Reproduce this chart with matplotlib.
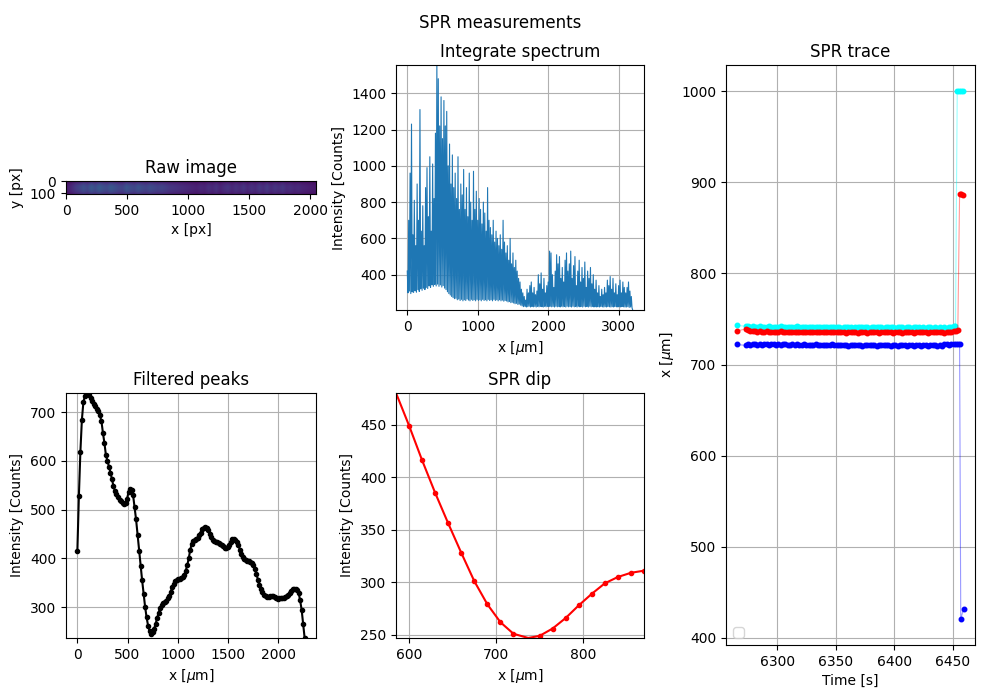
import numpy as np
import matplotlib
matplotlib.use('Agg')
import matplotlib.pyplot as plt

# raw camera image, coarse column / row brightness profiles (0..1 of colormap)
raw_cols = [0.08, 0.12, 0.17, 0.20, 0.24, 0.21, 0.27, 0.23, 0.28, 0.24, 0.22, 0.27,
            0.24, 0.21, 0.20, 0.26, 0.23, 0.21, 0.25, 0.22, 0.20, 0.23, 0.21, 0.19,
            0.20, 0.18, 0.16, 0.15, 0.14, 0.13, 0.12, 0.11, 0.10, 0.09, 0.11, 0.10,
            0.13, 0.11, 0.14, 0.10, 0.13, 0.15, 0.11, 0.14, 0.12, 0.15, 0.11, 0.14,
            0.12, 0.16, 0.13, 0.17, 0.12, 0.15, 0.13, 0.16, 0.12, 0.13, 0.11, 0.12,
            0.10, 0.09, 0.08, 0.07]
raw_rows = [0.45, 0.70, 0.90, 1.00, 1.00, 0.95, 0.85, 0.65]

# integrated spectrum, x every 10 um
spec_y = [420, 300, 700, 310, 960, 296, 1230, 305, 620, 302,
          810, 312, 560, 304, 900, 318, 700, 308, 1310, 322,
          640, 314, 780, 326, 560, 318, 880, 330, 990, 324,
          720, 338, 1050, 330, 640, 344, 1010, 336, 820, 346,
          1180, 338, 1560, 348, 1480, 336, 1220, 344, 1380, 332,
          1150, 340, 1360, 326, 1220, 318, 1300, 306, 1000, 296,
          1120, 288, 900, 280, 1060, 274, 880, 268, 960, 270,
          820, 262, 1050, 266, 760, 258, 900, 264, 840, 256,
          980, 262, 760, 258, 880, 266, 720, 260, 960, 256,
          800, 264, 700, 258, 970, 262, 760, 256, 860, 264,
          700, 258, 820, 262, 760, 256, 680, 264, 800, 258,
          740, 262, 640, 256, 880, 264, 700, 258, 660, 262,
          620, 256, 700, 264, 580, 258, 640, 262, 600, 256,
          560, 262, 620, 256, 540, 260, 700, 254, 580, 258,
          520, 255, 560, 250, 480, 252, 600, 246, 460, 248,
          520, 244, 440, 240, 480, 242, 420, 236, 380, 238,
          360, 232, 320, 228, 300, 224, 280, 226, 260, 222,
          320, 224, 300, 226, 340, 222, 360, 225, 300, 223,
          330, 225, 290, 222, 310, 226, 400, 223, 350, 225,
          410, 224, 320, 222, 380, 226, 300, 223, 340, 225,
          360, 224, 530, 226, 520, 223, 400, 225, 330, 222,
          420, 226, 510, 223, 460, 225, 500, 222, 380, 226,
          440, 223, 360, 225, 480, 222, 520, 226, 420, 223,
          460, 225, 530, 222, 380, 226, 450, 223, 500, 225,
          340, 222, 420, 226, 480, 223, 360, 225, 440, 222,
          380, 226, 470, 223, 330, 225, 420, 222, 380, 226,
          440, 223, 350, 225, 400, 222, 320, 224, 370, 222,
          300, 224, 340, 222, 280, 225, 320, 223, 290, 222,
          330, 224, 300, 222, 370, 225, 340, 223, 390, 222,
          320, 224, 380, 222, 300, 225, 350, 223, 290, 222,
          340, 224, 370, 222, 300, 225, 360, 223, 330, 222,
          300, 222, 330, 224, 360, 220, 310, 222, 280, 218,
          205]
spec_x = [10 * i for i in range(len(spec_y))]

# filtered peaks, x every 15 um
peak_y = [415, 527, 618, 684, 720, 733, 738, 739, 734, 728, 722, 716, 712, 707, 702, 693,
          681, 657, 636, 611, 600, 588, 576, 562, 548, 538, 531, 526, 520, 517, 514, 512,
          514, 522, 536, 542, 540, 530, 505, 480, 449, 416, 385, 356, 328, 301, 279, 262,
          251, 246, 249, 256, 266, 278, 289, 299, 305, 309, 311, 313, 318, 323, 332, 341,
          348, 353, 355, 357, 358, 359, 361, 366, 375, 386, 400, 418, 430, 435, 437, 439,
          442, 447, 453, 460, 463, 464, 462, 458, 451, 443, 437, 435, 434, 433, 432, 430,
          428, 425, 422, 421, 423, 428, 434, 439, 440, 438, 434, 427, 418, 410, 403, 398,
          396, 395, 394, 393, 391, 387, 378, 368, 356, 346, 338, 331, 326, 322, 321, 321,
          322, 323, 322, 320, 318, 317, 318, 318, 318, 319, 320, 322, 325, 329, 334, 337,
          338, 338, 336, 330, 314, 295, 266, 237]
peak_x = [15 * i for i in range(len(peak_y))]

# SPR dip around the minimum
dip_x = [585, 600, 615, 630, 645, 660, 675, 690, 705, 720, 737, 750, 765, 780, 795,
         810, 825, 840, 855, 870]
dip_y = [480, 449, 416, 385, 356, 328, 301, 279, 262, 251, 247, 249, 256, 266, 278,
         289, 299, 305, 309, 311]
dip_marks = [1, 2, 3, 4, 5, 6, 7, 8, 9, 11, 12, 13, 14, 15, 16, 17, 18, 19]

# SPR trace
t = [6266, 6273, 6275, 6277, 6279, 6281, 6283, 6285, 6287, 6289, 6291, 6293, 6295, 6297,
     6299, 6301, 6303, 6305, 6307, 6309, 6311, 6313, 6315, 6317, 6319, 6321, 6323, 6325,
     6327, 6329, 6331, 6333, 6335, 6337, 6339, 6341, 6343, 6345, 6347, 6349, 6351, 6353,
     6355, 6357, 6359, 6361, 6363, 6365, 6367, 6369, 6371, 6373, 6375, 6377, 6379, 6381,
     6383, 6385, 6387, 6389, 6391, 6393, 6395, 6397, 6399, 6401, 6403, 6405, 6407, 6409,
     6411, 6413, 6415, 6417, 6419, 6421, 6423, 6425, 6427, 6429, 6431, 6433, 6435, 6437,
     6439, 6441, 6443, 6445, 6447, 6449, 6451]
cyan_y = [743, 742, 742, 741, 742, 741, 741, 742, 741, 741, 741, 742, 741, 741,
          741, 741, 742, 741, 741, 741, 741, 741, 741, 742, 741, 741, 741, 741,
          741, 741, 741, 741, 741, 741, 741, 741, 741, 741, 741, 741, 741, 741,
          740, 741, 741, 741, 741, 740, 741, 741, 741, 741, 741, 741, 740, 741,
          741, 741, 741, 741, 740, 741, 741, 741, 741, 740, 741, 741, 741, 740,
          741, 741, 740, 741, 741, 741, 740, 741, 740, 741, 741, 740, 741, 740,
          741, 740, 741, 740, 741, 741, 742]
red_y = [737, 739, 738, 737, 737, 737, 736, 737, 736, 736, 737, 736, 736, 736,
         736, 736, 737, 736, 736, 736, 736, 736, 736, 736, 736, 736, 736, 736,
         736, 736, 736, 736, 736, 736, 736, 736, 736, 736, 736, 736, 736, 736,
         736, 736, 735, 736, 736, 736, 736, 735, 736, 736, 736, 735, 736, 736,
         736, 736, 735, 736, 736, 736, 736, 736, 735, 736, 736, 736, 735, 736,
         736, 736, 736, 735, 736, 736, 736, 736, 736, 735, 736, 736, 736, 736,
         736, 736, 735, 736, 736, 736, 737]
blue_y = [722, 721, 722, 721, 722, 722, 721, 722, 721, 722, 722, 721, 722, 722,
          721, 722, 721, 722, 722, 721, 721, 722, 721, 722, 721, 721, 722, 721,
          721, 721, 721, 722, 721, 721, 721, 721, 721, 721, 722, 721, 721, 721,
          721, 721, 721, 720, 721, 721, 721, 721, 721, 720, 721, 721, 721, 721,
          721, 720, 721, 721, 721, 721, 721, 720, 721, 721, 720, 721, 721, 721,
          720, 721, 721, 720, 721, 721, 720, 721, 721, 720, 721, 721, 721, 720,
          721, 720, 722, 722, 721, 722, 722]
cyan_tail_t = [6452.5, 6454, 6455.5, 6457, 6458.5]
cyan_tail_y = [742, 1000, 1000, 1000, 1000]
red_tail_t = [6453, 6454.5, 6456, 6457.5, 6459]
red_tail_y = [737, 738, 887, 887, 886]
blue_tail_t = [6453, 6454.5, 6456, 6457, 6459.5]
blue_tail_y = [722, 722, 722, 421, 432]

fig = plt.figure(figsize=(10, 7), dpi=100)
fig.suptitle('SPR measurements')

ax0 = fig.add_axes([0.066, 0.557, 0.25, 0.35])
raw = np.outer(raw_rows, raw_cols)
ax0.imshow(raw, cmap='viridis', vmin=0, vmax=1, extent=(-0.5, 2047.5, 104.5, -0.5),
           interpolation='bilinear')
ax0.set_yticks([0, 100])
ax0.set_title('Raw image')
ax0.set_xlabel('x [px]')
ax0.set_ylabel('y [px]')

ax1 = fig.add_axes([0.396, 0.557, 0.248, 0.35])
ax1.plot(spec_x, spec_y, lw=0.8)
ax1.set_ylim(min(spec_y), max(spec_y) - 5)
ax1.set_title('Integrate spectrum')
ax1.set_xlabel('x [$\\mu$m]')
ax1.set_ylabel('Intensity [Counts]')
ax1.grid()

ax2 = fig.add_axes([0.066, 0.0886, 0.25, 0.35])
ax2.plot(peak_x, peak_y, 'k.-')
ax2.set_ylim(min(peak_y), max(peak_y))
ax2.set_title('Filtered peaks')
ax2.set_xlabel('x [$\\mu$m]')
ax2.set_ylabel('Intensity [Counts]')
ax2.grid()

ax3 = fig.add_axes([0.396, 0.0886, 0.248, 0.35])
ax3.plot(dip_x, dip_y, 'r.-', markevery=dip_marks)
ax3.set_xlim(min(dip_x), max(dip_x))
ax3.set_ylim(min(dip_y), max(dip_y))
ax3.set_title('SPR dip')
ax3.set_xlabel('x [$\\mu$m]')
ax3.set_ylabel('Intensity [Counts]')
ax3.grid()

ax4 = fig.add_axes([0.726, 0.0786, 0.249, 0.8286])
for tt, yy, tail_t, tail_y, c in [(t, cyan_y, cyan_tail_t, cyan_tail_y, 'cyan'),
                                  (t, red_y, red_tail_t, red_tail_y, 'red'),
                                  (t, blue_y, blue_tail_t, blue_tail_y, 'blue')]:
    ts = tt + tail_t
    ys = yy + tail_y
    ax4.plot(ts, ys, color=c, lw=0.8, alpha=0.4)
    ax4.plot(ts, ys, '.', color=c, ms=6.5)
ax4.legend(handles=[], loc='lower left')
ax4.set_title('SPR trace')
ax4.set_xlabel('Time [s]')
ax4.set_ylabel('x [$\\mu$m]')
ax4.grid()

plt.savefig('out.png')
